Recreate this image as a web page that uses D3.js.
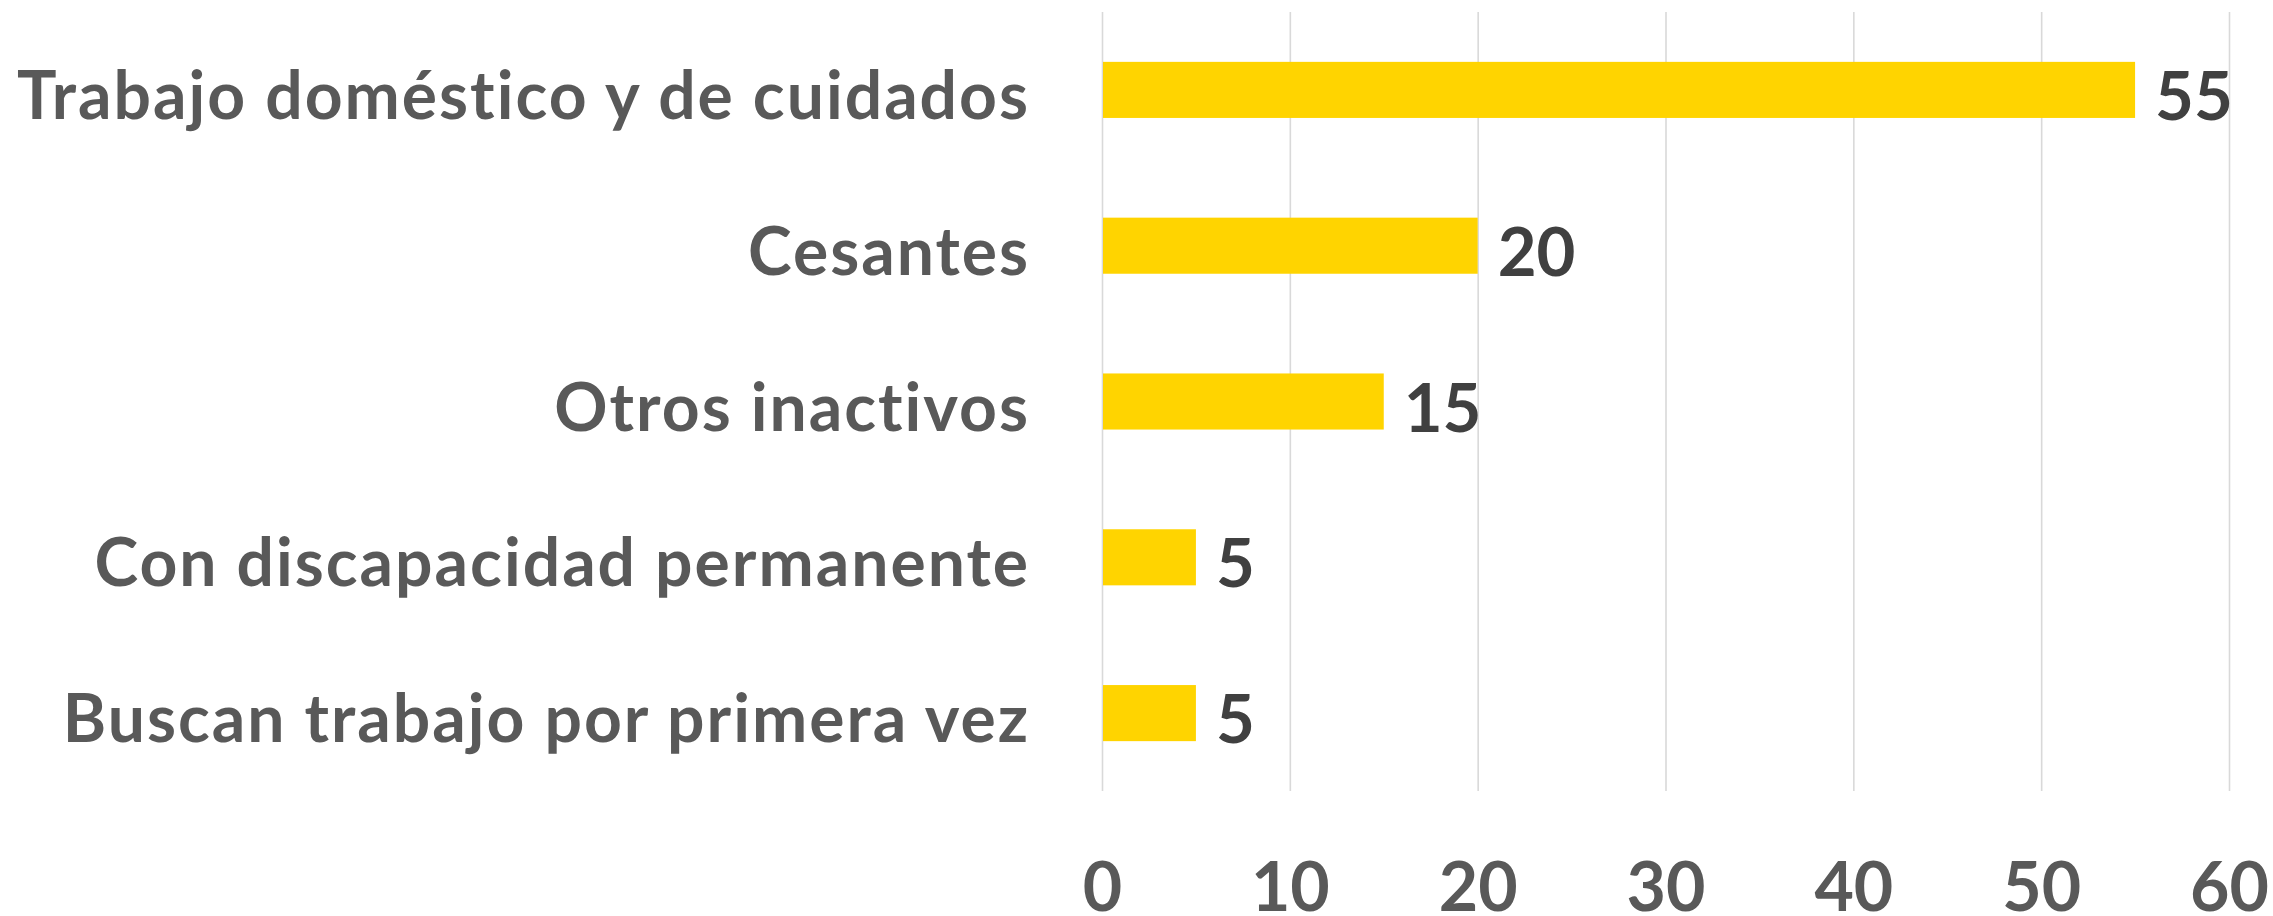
<!DOCTYPE html>
<html>
<head>
<meta charset="utf-8">
<script src="https://cdn.jsdelivr.net/npm/d3@7"></script>
<style>
  html, body { margin: 0; padding: 0; background: #ffffff; }
  svg { display: block; }
</style>
</head>
<body>
<script>
const categories = [
  "Trabajo doméstico y de cuidados",
  "Cesantes",
  "Otros inactivos",
  "Con discapacidad permanente",
  "Buscan trabajo por primera vez"
];
const values = [55, 20, 15, 5, 5];
const xTicks = [0, 10, 20, 30, 40, 50, 60];

const W = 2273, H = 916;
const FONT = "Lato, 'Open Sans', sans-serif";

const svg = d3.select("body").append("svg")
  .attr("width", W).attr("height", H);

const x = d3.scaleLinear().domain([0, 60]).range([1102, 2229]);
const y = d3.scaleBand().domain(categories).range([12, 791])
  .paddingInner(0.64).paddingOuter(0.32);

// grid + x axis
const xAxis = d3.axisBottom(x).tickValues(xTicks).tickSize(-(791 - 12)).tickPadding(0);
const gx = svg.append("g").attr("transform", "translate(0,791)").call(xAxis);
gx.select(".domain").remove();
gx.selectAll(".tick line").attr("stroke", "#d9d9d9").attr("stroke-width", 1.6);
gx.selectAll(".tick text")
  .attr("y", 120).attr("dy", 0)
  .attr("fill", "#595959")
  .style("font-family", FONT).style("font-weight", 700).style("font-size", "68px");

// bars
svg.append("g").selectAll("rect").data(values).join("rect")
  .attr("x", x(0) + 1)
  .attr("y", (d, i) => y(categories[i]))
  .attr("width", d => x(d) - x(0) - 1)
  .attr("height", y.bandwidth())
  .attr("fill", "#FFD400");

// value labels
svg.append("g").selectAll("text").data(values).join("text")
  .attr("x", d => x(d) + 20)
  .attr("y", (d, i) => y(categories[i]) + y.bandwidth() / 2 + 30)
  .attr("fill", "#404040")
  .style("font-family", FONT).style("font-weight", 700).style("font-size", "67px")
  .text(d => d);

// category labels
const yAxis = d3.axisLeft(y).tickSize(0).tickPadding(0);
const gy = svg.append("g").attr("transform", "translate(1030,0)").call(yAxis);
gy.select(".domain").remove();
gy.selectAll(".tick text")
  .attr("x", 0).attr("dy", 0).attr("y", 29)
  .attr("fill", "#595959")
  .style("font-family", FONT).style("font-weight", 700).style("font-size", "66px")
  .style("letter-spacing", "2px");
</script>
</body>
</html>
